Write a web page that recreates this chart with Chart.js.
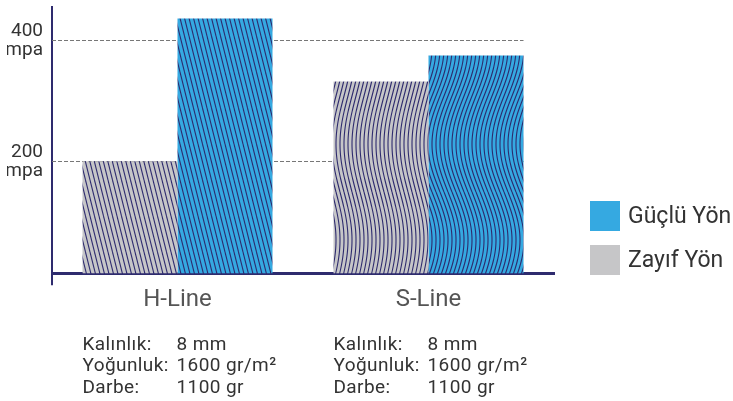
<!DOCTYPE html>
<html>
<head>
<meta charset="utf-8">
<script src="https://cdn.jsdelivr.net/npm/chart.js@4/dist/chart.umd.min.js"></script>
<style>
  body { margin: 0; background: #fff; }
  #wrap { width: 733px; height: 401px; position: relative; }
</style>
</head>
<body>
<div id="wrap"><canvas id="chart"></canvas></div>
<script>
const categories = ['H-Line', 'S-Line'];
const weakValues = [200, 332];    // Zayıf Yön
const strongValues = [436, 375];  // Güçlü Yön
const yTicks = [200, 400];
const specLabels = ['Kalınlık:', 'Yoğunluk:', 'Darbe:'];
const specValues = [
    ['8 mm', '1600 gr/m²', '1100 gr'],
    ['8 mm', '1600 gr/m²', '1100 gr']
];

const navy = '#2e2b6e';
const blue = '#35a9e1';
const gray = '#c6c6c8';
const font = 'Roboto';

const canvas = document.getElementById('chart');
const ctx = canvas.getContext('2d');

// diagonal stripes for H-Line
function diagonalPattern(bg) {
    const t = document.createElement('canvas');
    t.width = 9; t.height = 36;
    const c = t.getContext('2d');
    c.fillStyle = bg;
    c.fillRect(0, 0, 9, 36);
    c.strokeStyle = navy;
    c.lineWidth = 1.1;
    for (let k = -3; k <= 3; k++) {
        c.beginPath();
        c.moveTo(k * 4.5, 0);
        c.lineTo(k * 4.5 + 9, 36);
        c.stroke();
    }
    return ctx.createPattern(t, 'repeat');
}

// wavy stripes for S-Line
function wavePattern(bg, amp) {
    const w = 8, h = 192;
    const t = document.createElement('canvas');
    t.width = w; t.height = h;
    const c = t.getContext('2d');
    c.fillStyle = bg;
    c.fillRect(0, 0, w, h);
    c.strokeStyle = navy;
    c.lineWidth = 1.1;
    for (let x0 = -24; x0 <= 32; x0 += 4) {
        c.beginPath();
        for (let y = 0; y <= h; y++) {
            const x = x0 + amp * Math.sin(2 * Math.PI * y / h);
            if (y === 0) c.moveTo(x, y); else c.lineTo(x, y);
        }
        c.stroke();
    }
    return ctx.createPattern(t, 'repeat');
}

const gridPlugin = {
    id: 'dashedGrid',
    beforeDatasetsDraw(chart) {
        const c = chart.ctx;
        const meta = chart.getDatasetMeta(1);
        const last = meta.data[meta.data.length - 1];
        const right = last.x + last.width / 2;
        c.save();
        c.strokeStyle = '#777';
        c.lineWidth = 1;
        c.setLineDash([4, 2]);
        yTicks.forEach(v => {
            const y = Math.round(chart.scales.y.getPixelForValue(v)) + 0.5;
            c.beginPath();
            c.moveTo(chart.chartArea.left, y);
            c.lineTo(right, y);
            c.stroke();
        });
        c.restore();
    }
};

// spec text under each group + legend on the right
const textPlugin = {
    id: 'specText',
    afterDraw(chart) {
        const c = chart.ctx;
        const weakMeta = chart.getDatasetMeta(0);
        c.save();
        c.font = '19px ' + font;
        c.letterSpacing = '0.4px';
        c.fillStyle = '#333';
        c.textBaseline = 'middle';
        categories.forEach((cat, i) => {
            const bar = weakMeta.data[i];
            const left = bar.x - bar.width / 2;
            const mid = chart.scales.x.getPixelForValue(i);
            specLabels.forEach((lab, j) => {
                const y = 345 + j * 21.5;
                c.fillText(lab, left, y);
                c.fillText(specValues[i][j], mid - 1, y);
            });
        });

        // legend, strong first
        const items = [
            { text: chart.data.datasets[1].label, color: blue },
            { text: chart.data.datasets[0].label, color: gray }
        ];
        c.font = '23px ' + font;
        c.letterSpacing = '0px';
        items.forEach((it, k) => {
            const y = 201 + k * 44;
            c.fillStyle = it.color;
            c.fillRect(590, y, 30, 30);
            c.fillStyle = '#333';
            c.fillText(it.text, 628, y + 16);
        });
        c.restore();
    }
};

new Chart(ctx, {
    type: 'bar',
    data: {
        labels: categories,
        datasets: [{
            label: 'Zayıf Yön',
            data: weakValues,
            backgroundColor: [diagonalPattern(gray), wavePattern(gray, 8)],
            borderWidth: 0
        }, {
            label: 'Güçlü Yön',
            data: strongValues,
            backgroundColor: [diagonalPattern(blue), wavePattern(blue, 12)],
            borderWidth: 0
        }]
    },
    options: {
        responsive: true,
        maintainAspectRatio: false,
        animation: false,
        barPercentage: 1,
        categoryPercentage: 0.757,
        layout: { padding: { top: 7, left: 7, bottom: 87, right: 179 } },
        plugins: {
            tooltip: { enabled: false },
            legend: { display: false }
        },
        scales: {
            x: {
                grid: {
                    drawOnChartArea: false,
                    tickLength: 12,
                    lineWidth: 2,
                    color: c => c.index === 0 ? navy : 'transparent'
                },
                border: { color: navy, width: 3 },
                ticks: {
                    color: '#555',
                    padding: 0,
                    font: { family: font, size: 24 }
                }
            },
            y: {
                min: 15,
                max: 455,
                afterBuildTicks: s => { s.ticks = yTicks.map(v => ({ value: v })); },
                afterFit: s => { s.width = 45; s.paddingTop = 0; s.paddingBottom = 0; },
                grid: { display: false },
                border: { color: navy, width: 2 },
                ticks: {
                    color: '#333',
                    padding: 1,
                    font: { family: font, size: 19, lineHeight: 1 },
                    callback: v => [String(v), 'mpa']
                }
            }
        }
    },
    plugins: [gridPlugin, textPlugin]
});
</script>
</body>
</html>
